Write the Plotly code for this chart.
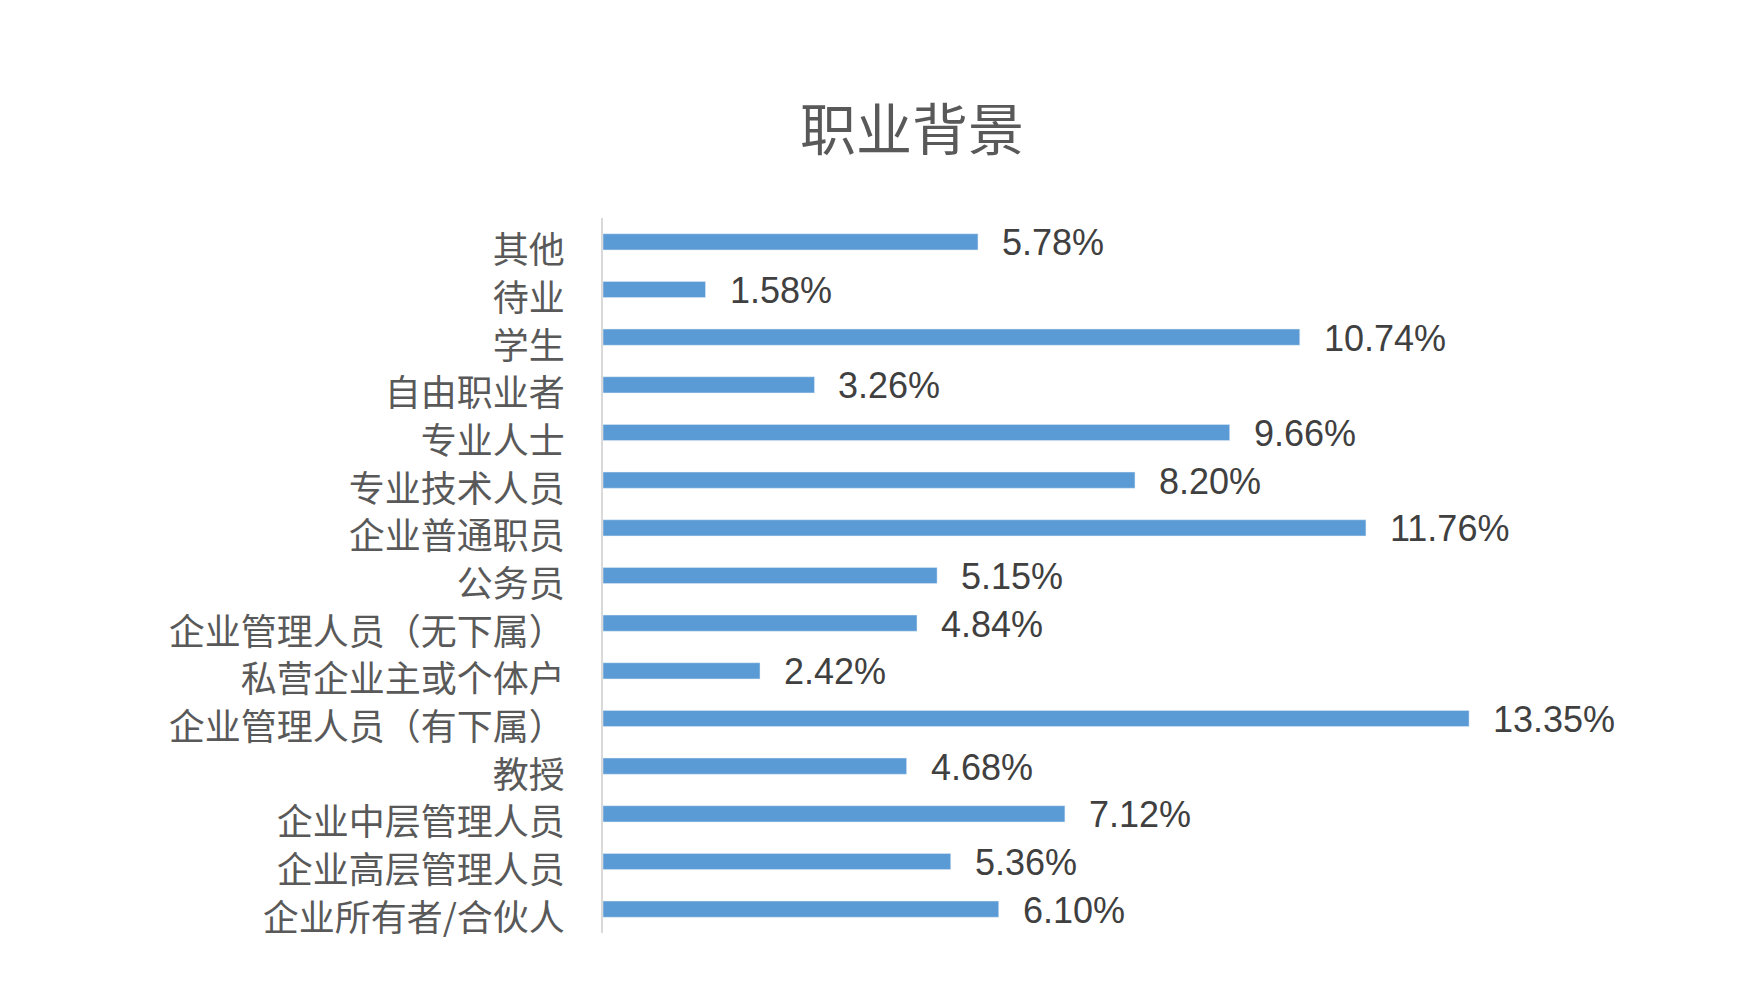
import plotly.graph_objects as go

# occupation categories, top to bottom as in the chart
categories = ["其他", "待业", "学生", "自由职业者", "专业人士", "专业技术人员",
              "企业普通职员", "公务员", "企业管理人员（无下属）", "私营企业主或个体户",
              "企业管理人员（有下属）", "教授", "企业中层管理人员", "企业高层管理人员",
              "企业所有者/合伙人"]
# share of respondents, percent
shares = [5.78, 1.58, 10.74, 3.26, 9.66, 8.20, 11.76, 5.15, 4.84, 2.42,
          13.35, 4.68, 7.12, 5.36, 6.10]

fig = go.Figure(go.Bar(
    x=shares, y=categories, orientation="h",
    marker_color="#5B9BD5", width=0.34,
    hoverinfo="x+y",
))

# value labels to the right of each bar
for cat, val in zip(categories, shares):
    fig.add_annotation(x=val, y=cat, text=f"{val:.2f}%", showarrow=False,
                       xanchor="left", yanchor="middle", xshift=22, yshift=-1,
                       font=dict(family="Liberation Sans, Arial", size=36, color="#404040"))

fig.update_layout(
    width=1742, height=1004,
    paper_bgcolor="white", plot_bgcolor="white",
    margin=dict(l=595, r=109, t=210, b=79),
    title=dict(text="职业背景", x=904 / 1742, xanchor="center", xref="container",
               y=1 - 122 / 1004, yanchor="middle", yref="container",
               font=dict(family="Noto Sans CJK SC", size=56, color="#595959")),
    showlegend=False,
)
fig.update_xaxes(range=[0, 16], visible=False, fixedrange=True)
fig.update_yaxes(autorange="reversed", showline=True, linecolor="#D9D9D9", linewidth=2,
                 ticks="", ticklabelstandoff=29, ticklabelshift=-9, showgrid=False,
                 tickfont=dict(family="Noto Sans CJK SC", size=36, color="#595959"))

fig.write_html("out.html")
